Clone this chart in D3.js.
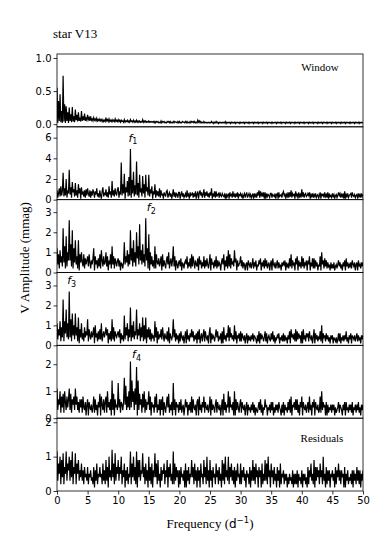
<!DOCTYPE html>
<html>
<head>
<meta charset="utf-8">
<script src="https://cdn.jsdelivr.net/npm/d3@7"></script>
<style>
body { margin: 0; background: #fff; }
</style>
</head>
<body>
<div id="chart"></div>
<script>
var W = 382, H = 545;

// frequency step of the sampled amplitude spectra (d^-1), 0..50
var freqStep = 0.125;
var xTicks = [0, 5, 10, 15, 20, 25, 30, 35, 40, 45, 50];

// spectral window (one line = 2 d^-1)
var win = [
0.55,0.02,0.35,0.05,0.45,0.03,0.2,0.02, 0.73,0.04,0.3,0.02,0.27,0.05,0.18,0.02,
0.25,0.05,0.15,0.03,0.26,0.04,0.12,0.03, 0.22,0.06,0.14,0.04,0.18,0.05,0.1,0.04,
0.2,0.05,0.12,0.06,0.16,0.05,0.09,0.06, 0.14,0.07,0.1,0.05,0.12,0.06,0.08,0.05,
0.1,0.06,0.08,0.05,0.09,0.05,0.07,0.05, 0.08,0.05,0.07,0.04,0.07,0.04,0.06,0.04,
0.1,0.05,0.07,0.04,0.08,0.04,0.06,0.04, 0.07,0.04,0.06,0.04,0.08,0.04,0.06,0.04,
0.07,0.04,0.06,0.03,0.06,0.04,0.05,0.03, 0.07,0.03,0.05,0.04,0.06,0.03,0.05,0.03,
0.07,0.04,0.05,0.03,0.06,0.03,0.05,0.03, 0.06,0.03,0.05,0.03,0.05,0.03,0.04,0.03,
0.07,0.03,0.05,0.03,0.05,0.03,0.04,0.03, 0.05,0.03,0.04,0.03,0.04,0.03,0.04,0.02,
0.04,0.02,0.04,0.03,0.04,0.02,0.03,0.02, 0.05,0.02,0.04,0.03,0.04,0.02,0.03,0.02,
0.04,0.03,0.04,0.02,0.04,0.02,0.03,0.02, 0.04,0.02,0.04,0.03,0.03,0.02,0.04,0.02,
0.04,0.02,0.03,0.02,0.04,0.03,0.03,0.02, 0.04,0.02,0.04,0.02,0.03,0.02,0.04,0.02,
0.04,0.03,0.04,0.02,0.04,0.02,0.03,0.02, 0.06,0.03,0.05,0.02,0.04,0.02,0.03,0.02,
0.04,0.02,0.03,0.02,0.03,0.02,0.03,0.02, 0.03,0.02,0.04,0.02,0.03,0.01,0.03,0.02,
0.04,0.02,0.03,0.01,0.03,0.02,0.03,0.02, 0.03,0.02,0.03,0.02,0.04,0.01,0.03,0.02,
0.03,0.02,0.03,0.01,0.03,0.02,0.03,0.02, 0.03,0.01,0.03,0.02,0.03,0.02,0.03,0.01,
0.03,0.02,0.03,0.02,0.03,0.01,0.03,0.02, 0.03,0.02,0.03,0.01,0.03,0.02,0.03,0.02,
0.03,0.01,0.03,0.02,0.03,0.02,0.03,0.01, 0.03,0.02,0.03,0.02,0.03,0.01,0.03,0.02,
0.03,0.02,0.03,0.01,0.03,0.02,0.03,0.02, 0.03,0.01,0.03,0.02,0.03,0.02,0.03,0.01,
0.03,0.02,0.03,0.02,0.03,0.01,0.03,0.02, 0.03,0.02,0.03,0.01,0.03,0.02,0.03,0.02,
0.03,0.01,0.03,0.02,0.03,0.02,0.03,0.01, 0.03,0.02,0.03,0.02,0.03,0.01,0.03,0.02,
0.03,0.02,0.03,0.01,0.03,0.02,0.03,0.02, 0.03,0.01,0.03,0.02,0.03,0.02,0.03,0.01,
0.03,0.02,0.03,0.02,0.03,0.01,0.03,0.02, 0.03,0.02,0.03,0.01,0.03,0.02,0.03,0.02,
0.03,0.01,0.03,0.02,0.03,0.02,0.03,0.01, 0.03,0.02,0.03,0.02,0.03,0.01,0.03,0.02,
0.03,0.02,0.03,0.01,0.03,0.02,0.03,0.02, 0.03,0.01,0.03,0.02,0.03,0.02,0.03,0.01,
0.03,0.02,0.03,0.02,0.03,0.01,0.03,0.02, 0.03,0.02,0.03,0.01,0.03,0.02,0.03,0.02,
0.03];

// amplitude spectrum of the data (f1)
var ampF1 = [
0.9,0.2,0.6,1.1,0.3,1.3,0.4,0.8, 2.6,0.3,1.1,0.4,2.0,0.2,0.9,0.6,
2.9,0.5,1.2,0.2,1.7,0.7,1.0,0.3, 1.6,0.4,0.9,0.2,1.5,0.6,1.1,0.1,
1.2,0.5,0.7,0.3,0.9,0.2,1.0,0.4, 1.1,0.6,0.3,0.9,0.2,0.8,0.4,1.0,
0.7,0.2,0.8,0.5,1.1,0.3,0.6,0.2, 0.9,0.4,0.1,0.8,1.2,0.3,0.6,0.5,
1.0,0.3,0.7,0.2,1.3,0.5,0.8,0.2, 1.8,0.4,0.9,0.3,1.1,0.6,0.4,1.0,
1.2,0.2,0.8,0.5,3.6,0.4,1.5,0.6, 2.5,0.1,1.2,0.7,1.8,0.3,2.2,0.4,
4.9,0.2,1.9,0.6,2.7,0.3,1.4,0.5, 3.7,0.4,1.6,0.2,2.4,0.7,1.1,0.3,
2.3,0.6,1.5,0.2,2.4,0.8,1.2,0.4, 2.4,0.3,1.0,0.6,1.3,0.1,0.8,0.5,
1.5,0.2,0.9,0.4,0.8,0.3,1.1,0.2, 0.9,0.4,0.6,0.1,0.7,0.5,0.3,0.8,
0.9,0.2,0.5,0.7,0.3,0.6,0.1,0.5, 1.0,0.3,0.7,0.2,0.6,0.5,0.2,0.7,
0.7,0.1,0.5,0.8,0.3,0.6,0.2,0.4, 0.6,0.2,0.9,0.3,0.5,0.1,0.7,0.4,
0.5,0.7,0.2,0.6,0.3,0.8,0.1,0.5, 0.8,0.1,0.6,0.9,0.4,0.7,0.2,0.5,
1.0,0.2,0.7,0.4,0.8,0.3,0.6,0.2, 0.7,0.4,1.1,0.1,0.6,0.3,0.8,0.2,
0.8,0.3,0.5,0.6,0.2,0.7,0.4,0.3, 0.6,0.4,0.3,0.5,0.1,0.6,0.2,0.4,
0.6,0.1,0.7,0.4,0.5,0.2,0.8,0.3, 0.5,0.2,0.6,0.3,0.7,0.1,0.5,0.4,
0.6,0.3,0.5,0.1,0.4,0.6,0.2,0.5, 0.7,0.2,0.4,0.6,0.3,0.5,0.1,0.4,
0.6,0.1,0.6,0.3,0.5,0.2,0.7,0.4, 0.9,0.2,0.8,0.4,0.6,0.3,0.7,0.1,
0.7,0.1,0.6,0.3,0.5,0.4,0.2,0.6, 0.6,0.2,0.5,0.4,0.3,0.6,0.1,0.5,
0.6,0.1,0.7,0.3,0.4,0.5,0.2,0.6, 0.8,0.4,0.6,0.1,0.5,0.3,0.7,0.2,
0.7,0.3,0.9,0.2,0.6,0.4,0.5,0.1, 0.8,0.4,0.6,0.1,0.7,0.3,0.5,0.2,
1.0,0.3,0.7,0.2,0.5,0.6,0.3,0.4, 0.6,0.4,0.7,0.1,0.5,0.3,0.6,0.2,
0.5,0.3,0.6,0.2,0.4,0.5,0.1,0.4, 0.7,0.1,0.6,0.4,0.5,0.2,0.7,0.3,
0.5,0.2,0.7,0.1,0.6,0.3,0.4,0.2, 0.6,0.3,0.5,0.1,0.4,0.5,0.2,0.4,
0.7,0.4,0.6,0.2,0.5,0.3,0.6,0.1, 0.8,0.1,0.5,0.3,0.6,0.2,0.4,0.5,
0.6,0.2,0.7,0.4,0.3,0.5,0.2,0.4, 0.5,0.1,0.6,0.3,0.5,0.2,0.6,0.3,
0.5];

// after prewhitening f1 (f2)
var ampF2 = [
1.2,0.4,0.9,0.2,1.1,0.5,0.8,0.3, 2.2,0.5,1.3,0.2,1.8,0.3,1.0,0.6,
2.6,0.6,1.4,0.3,2.1,0.2,1.2,0.5, 1.6,0.4,0.8,0.2,1.6,0.1,0.9,0.5,
1.0,0.5,0.3,0.9,0.2,0.7,0.4,0.6, 0.8,0.3,0.9,0.5,0.2,0.6,0.4,0.7,
1.2,0.1,0.8,0.4,0.6,0.2,0.7,0.3, 0.9,0.2,1.1,0.6,0.3,0.8,0.4,0.5,
1.0,0.3,0.8,0.1,0.6,0.4,0.9,0.2, 1.3,0.4,0.8,0.2,0.7,0.5,0.3,0.6,
0.7,0.3,0.6,0.1,0.5,0.4,0.2,0.5, 1.5,0.4,0.8,0.5,1.1,0.3,0.9,0.4,
2.1,0.6,1.2,0.3,1.6,0.5,1.0,0.3, 2.0,0.7,1.3,0.4,2.4,0.6,1.1,0.4,
1.4,0.5,0.9,0.3,2.7,0.6,1.2,0.2, 1.9,0.1,1.0,0.4,0.8,0.3,0.6,0.2,
1.3,0.2,0.9,0.5,0.4,0.7,0.3,0.5, 0.8,0.1,0.9,0.3,0.6,0.4,0.2,0.6,
0.8,0.4,1.0,0.2,0.5,0.7,0.3,0.6, 1.3,0.3,0.8,0.1,0.6,0.4,0.2,0.5,
0.6,0.3,0.7,0.1,0.5,0.4,0.2,0.5, 0.6,0.4,0.8,0.2,0.5,0.3,0.7,0.2,
0.9,0.3,0.8,0.5,0.2,0.6,0.4,0.3, 0.7,0.1,0.8,0.4,0.6,0.2,0.5,0.3,
0.8,0.2,0.6,0.3,0.7,0.4,0.2,0.5, 0.9,0.1,0.7,0.4,0.5,0.2,0.6,0.3,
0.8,0.2,0.6,0.3,0.5,0.4,0.1,0.5, 0.7,0.4,0.9,0.1,0.6,0.3,0.8,0.2,
1.1,0.3,0.9,0.2,0.7,0.4,0.5,0.3, 1.1,0.5,0.7,0.1,0.6,0.3,0.4,0.5,
0.8,0.3,0.6,0.2,0.5,0.4,0.1,0.4, 0.5,0.1,0.6,0.4,0.3,0.5,0.2,0.4,
0.7,0.2,0.5,0.3,0.6,0.1,0.4,0.3, 0.6,0.4,0.7,0.1,0.5,0.3,0.6,0.2,
0.7,0.3,0.6,0.2,0.4,0.5,0.1,0.4, 0.6,0.1,0.7,0.4,0.3,0.5,0.2,0.4,
0.6,0.2,0.5,0.3,0.4,0.1,0.5,0.3, 0.5,0.4,0.6,0.1,0.5,0.3,0.4,0.2,
0.7,0.3,0.9,0.2,0.6,0.4,0.5,0.1, 0.7,0.4,0.8,0.1,0.6,0.3,0.5,0.2,
0.8,0.3,0.7,0.2,0.5,0.4,0.6,0.1, 0.6,0.4,0.8,0.1,0.5,0.3,0.7,0.2,
0.7,0.2,0.6,0.3,0.5,0.1,0.4,0.3, 0.8,0.1,1.0,0.4,0.6,0.2,0.7,0.3,
0.6,0.2,0.5,0.3,0.4,0.1,0.5,0.2, 0.4,0.2,0.5,0.1,0.3,0.4,0.2,0.4,
0.6,0.3,0.5,0.2,0.4,0.1,0.5,0.3, 0.6,0.1,0.7,0.3,0.5,0.2,0.4,0.3,
0.5,0.2,0.6,0.4,0.3,0.5,0.1,0.4, 0.5,0.1,0.6,0.3,0.4,0.2,0.5,0.3,
0.5];

// (f3)
var ampF3 = [
1.1,0.3,0.8,0.5,1.2,0.2,0.9,0.4, 2.3,0.2,1.2,0.6,1.8,0.4,1.1,0.3,
2.7,0.4,1.3,0.2,1.6,0.5,1.0,0.3, 1.6,0.5,0.9,0.2,1.4,0.1,0.8,0.4,
1.1,0.3,0.6,0.2,0.9,0.4,0.7,0.5, 1.3,0.2,0.8,0.5,0.3,0.7,0.4,0.6,
0.9,0.1,1.0,0.4,0.6,0.2,0.7,0.3, 0.8,0.3,1.1,0.2,0.5,0.7,0.4,0.6,
0.9,0.5,0.8,0.1,0.6,0.3,0.7,0.2, 1.3,0.3,0.9,0.2,0.7,0.5,0.4,0.6,
0.7,0.4,0.8,0.1,0.6,0.3,0.5,0.2, 1.5,0.3,0.9,0.5,1.1,0.2,0.8,0.4,
1.9,0.2,1.0,0.4,1.2,0.3,0.7,0.5, 1.8,0.3,0.8,0.5,1.1,0.2,0.9,0.4,
1.4,0.2,1.0,0.3,1.4,0.1,0.8,0.4, 0.9,0.3,0.8,0.2,0.6,0.4,0.5,0.2,
1.2,0.4,0.9,0.1,0.7,0.3,0.5,0.4, 0.8,0.3,0.9,0.5,0.2,0.6,0.4,0.3,
0.7,0.2,0.9,0.1,0.6,0.4,0.3,0.5, 1.3,0.4,0.8,0.2,0.6,0.3,0.5,0.1,
0.6,0.2,0.7,0.4,0.3,0.5,0.1,0.4, 0.7,0.1,0.8,0.3,0.5,0.2,0.6,0.4,
0.8,0.4,0.7,0.2,0.5,0.3,0.6,0.1, 0.7,0.3,0.8,0.1,0.4,0.6,0.2,0.5,
0.8,0.2,0.7,0.4,0.3,0.5,0.1,0.6, 0.9,0.1,0.6,0.3,0.5,0.4,0.2,0.5,
0.8,0.4,0.7,0.2,0.4,0.3,0.6,0.1, 0.7,0.1,0.9,0.3,0.5,0.2,0.6,0.4,
1.0,0.2,0.9,0.4,0.6,0.3,0.5,0.2, 1.0,0.3,0.7,0.1,0.5,0.4,0.6,0.2,
0.7,0.2,0.6,0.4,0.3,0.5,0.1,0.4, 0.6,0.1,0.5,0.3,0.4,0.2,0.5,0.3,
0.6,0.2,0.5,0.4,0.3,0.1,0.5,0.2, 0.7,0.1,0.6,0.3,0.5,0.4,0.2,0.4,
0.7,0.2,0.6,0.1,0.4,0.5,0.3,0.2, 0.6,0.3,0.7,0.2,0.5,0.1,0.4,0.3,
0.5,0.4,0.6,0.1,0.4,0.3,0.5,0.2, 0.6,0.2,0.5,0.3,0.4,0.1,0.5,0.3,
0.7,0.1,0.8,0.4,0.5,0.3,0.6,0.2, 0.8,0.2,0.7,0.3,0.6,0.4,0.5,0.1,
0.7,0.1,0.8,0.3,0.5,0.2,0.6,0.4, 0.6,0.2,0.7,0.4,0.3,0.5,0.1,0.4,
0.8,0.1,0.6,0.3,0.5,0.2,0.4,0.3, 0.7,0.2,1.0,0.1,0.6,0.4,0.5,0.2,
0.6,0.3,0.5,0.2,0.4,0.1,0.5,0.3, 0.5,0.1,0.4,0.3,0.2,0.4,0.1,0.3,
0.6,0.2,0.6,0.1,0.4,0.3,0.5,0.2, 0.5,0.3,0.7,0.2,0.4,0.1,0.5,0.3,
0.6,0.1,0.5,0.4,0.3,0.5,0.2,0.4, 0.6,0.2,0.5,0.3,0.4,0.1,0.5,0.3,
0.5];

// (f4)
var ampF4 = [
1.1,0.3,0.7,0.5,1.0,0.2,0.8,0.4, 0.9,0.2,1.0,0.6,0.3,0.8,0.4,0.7,
1.1,0.3,0.9,0.2,0.7,0.5,0.8,0.3, 1.1,0.5,0.8,0.3,0.6,0.2,0.7,0.4,
0.7,0.2,0.8,0.4,0.3,0.6,0.1,0.5, 0.7,0.1,0.6,0.4,0.3,0.5,0.2,0.4,
0.8,0.2,0.7,0.3,0.5,0.1,0.6,0.4, 0.9,0.1,0.8,0.5,0.3,0.7,0.2,0.6,
0.8,0.2,1.0,0.4,0.6,0.3,0.7,0.1, 1.4,0.3,0.9,0.1,0.7,0.4,0.5,0.3,
1.3,0.4,0.7,0.2,0.6,0.5,0.3,0.6, 1.5,0.5,1.2,0.3,0.8,0.4,1.0,0.3,
2.1,0.4,1.4,0.6,1.0,0.3,1.1,0.5, 1.9,0.1,1.4,0.3,0.9,0.5,0.7,0.2,
0.9,0.4,1.0,0.2,0.7,0.3,0.6,0.5, 1.0,0.3,0.8,0.1,0.6,0.4,0.5,0.2,
0.8,0.4,0.9,0.2,0.5,0.3,0.7,0.1, 0.7,0.3,0.8,0.1,0.6,0.4,0.2,0.5,
0.8,0.4,0.9,0.2,0.5,0.3,0.6,0.1, 1.3,0.3,0.7,0.1,0.6,0.4,0.5,0.2,
0.6,0.3,0.7,0.2,0.4,0.5,0.1,0.4, 0.7,0.4,0.6,0.1,0.5,0.3,0.6,0.2,
0.8,0.2,0.7,0.4,0.3,0.5,0.1,0.6, 0.7,0.1,0.8,0.3,0.5,0.2,0.6,0.4,
0.8,0.2,0.6,0.4,0.3,0.5,0.2,0.4, 0.8,0.1,0.7,0.3,0.5,0.4,0.2,0.5,
0.7,0.2,0.6,0.4,0.3,0.5,0.1,0.4, 0.7,0.1,0.9,0.3,0.6,0.2,0.5,0.4,
1.0,0.2,0.8,0.4,0.5,0.3,0.6,0.1, 1.0,0.1,0.7,0.3,0.6,0.4,0.2,0.5,
0.7,0.2,0.6,0.4,0.3,0.5,0.1,0.4, 0.6,0.1,0.5,0.3,0.4,0.2,0.5,0.3,
0.6,0.2,0.5,0.1,0.4,0.3,0.2,0.4, 0.6,0.3,0.7,0.2,0.5,0.1,0.4,0.3,
0.7,0.4,0.5,0.1,0.4,0.3,0.5,0.2, 0.6,0.3,0.6,0.1,0.4,0.2,0.5,0.3,
0.5,0.2,0.6,0.4,0.3,0.1,0.5,0.2, 0.6,0.1,0.5,0.3,0.4,0.2,0.6,0.3,
0.7,0.2,0.8,0.1,0.5,0.4,0.6,0.3, 0.7,0.3,0.7,0.2,0.5,0.1,0.6,0.4,
0.8,0.1,0.6,0.4,0.3,0.5,0.2,0.4, 0.6,0.2,0.8,0.3,0.5,0.1,0.6,0.4,
0.7,0.1,0.6,0.4,0.3,0.5,0.2,0.3, 0.8,0.2,1.0,0.3,0.6,0.4,0.5,0.1,
0.6,0.1,0.5,0.2,0.4,0.3,0.5,0.2, 0.5,0.3,0.5,0.1,0.4,0.2,0.3,0.4,
0.6,0.2,0.5,0.4,0.3,0.1,0.5,0.3, 0.6,0.1,0.6,0.3,0.4,0.2,0.5,0.3,
0.5,0.2,0.6,0.1,0.4,0.3,0.5,0.2, 0.5,0.3,0.6,0.2,0.4,0.1,0.5,0.3,
0.5];

// residuals after removing f1..f4
var ampRes = [
1.15,0.3,0.8,0.5,1.0,0.2,0.9,0.4, 1.1,0.2,0.7,0.5,1.15,0.3,0.8,0.6,
1.0,0.3,0.9,0.4,1.15,0.2,0.7,0.5, 1.1,0.2,0.8,0.5,0.9,0.3,0.6,0.4,
0.8,0.3,0.6,0.2,0.7,0.4,0.5,0.3, 0.7,0.2,0.5,0.4,0.6,0.3,0.4,0.2,
0.7,0.1,0.6,0.3,0.8,0.2,0.5,0.4, 0.7,0.4,0.5,0.2,0.8,0.3,0.6,0.2,
0.9,0.3,0.7,0.1,1.0,0.4,0.6,0.3, 1.2,0.4,0.8,0.2,1.1,0.3,0.7,0.5,
0.9,0.3,0.7,0.5,1.0,0.2,0.6,0.4, 0.8,0.1,0.6,0.3,0.7,0.2,0.5,0.4,
1.15,0.2,0.8,0.4,1.0,0.3,0.7,0.2, 1.15,0.1,0.9,0.4,0.9,0.3,0.6,0.5,
1.1,0.4,0.7,0.2,0.8,0.3,0.6,0.1, 1.0,0.3,0.7,0.2,0.8,0.1,0.6,0.4,
1.1,0.4,0.8,0.2,0.9,0.3,0.5,0.1, 0.7,0.3,0.6,0.5,0.8,0.2,0.6,0.4,
0.9,0.1,0.7,0.4,0.8,0.3,0.5,0.2, 1.15,0.2,0.8,0.3,0.7,0.4,0.6,0.1,
0.6,0.2,0.7,0.4,0.5,0.3,0.6,0.1, 0.8,0.1,0.6,0.3,0.7,0.2,0.5,0.4,
0.9,0.4,0.7,0.2,0.8,0.3,0.6,0.1, 0.7,0.3,0.6,0.1,0.8,0.4,0.5,0.2,
0.9,0.4,0.7,0.2,1.0,0.3,0.6,0.1, 0.9,0.3,0.6,0.1,0.7,0.4,0.5,0.2,
0.8,0.4,0.6,0.2,0.7,0.3,0.5,0.1, 0.9,0.3,0.8,0.2,1.0,0.4,0.6,0.3,
1.0,0.2,0.7,0.4,0.8,0.3,0.6,0.2, 0.7,0.1,0.6,0.3,0.8,0.4,0.5,0.2,
0.8,0.2,0.6,0.4,0.7,0.3,0.5,0.1, 0.6,0.4,0.5,0.2,0.7,0.1,0.6,0.3,
0.9,0.3,0.7,0.2,0.8,0.4,0.6,0.1, 0.7,0.4,0.6,0.1,0.8,0.2,0.5,0.3,
0.9,0.3,0.8,0.2,1.0,0.4,0.6,0.1, 0.8,0.4,0.6,0.2,0.7,0.3,0.5,0.1,
0.7,0.3,0.6,0.1,0.8,0.2,0.5,0.4, 0.6,0.2,0.5,0.3,0.5,0.1,0.4,0.2,
0.5,0.3,0.4,0.2,0.6,0.1,0.5,0.2, 0.5,0.2,0.6,0.1,0.5,0.3,0.4,0.2,
0.6,0.1,0.5,0.3,0.5,0.2,0.4,0.1, 0.7,0.2,0.6,0.4,0.8,0.3,0.5,0.2,
0.9,0.1,0.7,0.3,0.7,0.4,0.6,0.2, 0.8,0.4,0.6,0.2,1.0,0.3,0.5,0.1,
0.7,0.2,0.6,0.3,0.6,0.1,0.5,0.4, 0.6,0.3,0.5,0.1,0.7,0.2,0.6,0.4,
0.8,0.3,0.6,0.2,0.6,0.4,0.5,0.1, 0.7,0.1,0.5,0.3,0.6,0.2,0.4,0.3,
0.5,0.2,0.6,0.1,0.6,0.3,0.5,0.2, 0.7,0.3,0.6,0.2,0.6,0.1,0.5,0.3,
0.6];

var panelData = [win, ampF1, ampF2, ampF3, ampF4, ampRes];
var panelDomains = [[-0.04, 1.06], [0, 7.05], [0, 3.62], [0, 3.65], [0, 2.7], [0, 2.12]];
var panelTicks = [[0, 0.5, 1.0], [0, 2, 4, 6], [0, 1, 2, 3], [0, 1, 2, 3], [0, 1, 2], [0, 1, 2]];
var tickFormats = [".1f", "d", "d", "d", "d", "d"];

// peak labels: [panel, frequency, amplitude, subscript]
var peakLabels = [[1, 12.4, 5.6, "1"], [2, 15.4, 3.05, "2"], [3, 2.4, 3.05, "3"], [4, 13.0, 2.23, "4"]];

var left = 57, right = 363, top0 = 54, bottom = 491;
var ph = (bottom - top0) / 6;

var svg = d3.select("#chart").append("svg")
  .attr("width", W)
  .attr("height", H)
  .style("font-family", "'DejaVu Sans', sans-serif");

var x = d3.scaleLinear().domain([0, 50]).range([left, right]);

panelData.forEach(function(vals, k) {
  var y0 = top0 + k * ph;
  var y = d3.scaleLinear().domain(panelDomains[k]).range([y0 + ph, y0]);

  var g = svg.append("g");

  g.append("clipPath").attr("id", "clip" + k)
    .append("rect").attr("x", left).attr("y", y0).attr("width", right - left).attr("height", ph);

  var line = d3.line()
    .x(function(d, i) { return x(i * freqStep); })
    .y(function(d) { return y(d); });

  g.append("path")
    .datum(vals)
    .attr("clip-path", "url(#clip" + k + ")")
    .attr("fill", "none")
    .attr("stroke", "#000")
    .attr("stroke-width", 1.2)
    .attr("d", line);

  var ya = g.append("g")
    .attr("transform", "translate(" + left + ",0)")
    .call(d3.axisLeft(y).tickValues(panelTicks[k]).tickSize(3.5).tickPadding(2).tickFormat(d3.format(tickFormats[k])));
  ya.select(".domain").remove();
  ya.selectAll("line").attr("stroke-width", 0.8);
  ya.selectAll("text").attr("font-size", 10).attr("fill", "#000").style("font-family", "'DejaVu Sans', sans-serif");

  if (k === 5) {
    var xa = g.append("g")
      .attr("transform", "translate(0," + (y0 + ph) + ")")
      .call(d3.axisBottom(x).tickValues(xTicks).tickSize(3.5).tickPadding(2));
    xa.select(".domain").remove();
    xa.selectAll("line").attr("stroke-width", 0.8);
    xa.selectAll("text").attr("font-size", 10).attr("fill", "#000").style("font-family", "'DejaVu Sans', sans-serif");
  }

  g.append("rect")
    .attr("x", left).attr("y", y0)
    .attr("width", right - left).attr("height", ph)
    .attr("fill", "none").attr("stroke", "#000").attr("stroke-width", 0.8);

  peakLabels.filter(function(p) { return p[0] === k; }).forEach(function(p) {
    var t = g.append("text")
      .attr("x", x(p[1]))
      .attr("y", y(p[2]))
      .attr("text-anchor", "middle")
      .attr("font-size", 11);
    t.append("tspan").attr("font-style", "italic").text("f");
    t.append("tspan").attr("font-size", 8).attr("dy", 2.5).text(p[3]);
  });
});

var serif = "'Liberation Serif', 'Times New Roman', serif";

svg.append("text").attr("x", 53).attr("y", 38)
  .attr("font-size", 13).style("font-family", serif).text("star V13");

svg.append("text").attr("x", 320).attr("y", 71).attr("text-anchor", "middle")
  .attr("font-size", 11).style("font-family", serif).text("Window");

svg.append("text").attr("x", 322).attr("y", 442).attr("text-anchor", "middle")
  .attr("font-size", 11).style("font-family", serif).text("Residuals");

svg.append("text")
  .attr("transform", "translate(29,258) rotate(-90)")
  .attr("text-anchor", "middle")
  .attr("font-size", 13).style("font-family", serif)
  .text("V Amplitude (mmag)");

var xl = svg.append("text").attr("x", 210).attr("y", 528).attr("text-anchor", "middle")
  .attr("font-size", 13).style("font-family", serif);
xl.append("tspan").text("Frequency (");
xl.append("tspan").style("font-family", "'DejaVu Sans', sans-serif").attr("font-size", 12).text("d");
xl.append("tspan").style("font-family", "'DejaVu Sans', sans-serif").attr("font-size", 8.5).attr("dy", -5).text("\u22121");
xl.append("tspan").attr("dy", 5).text(")");
</script>
</body>
</html>
